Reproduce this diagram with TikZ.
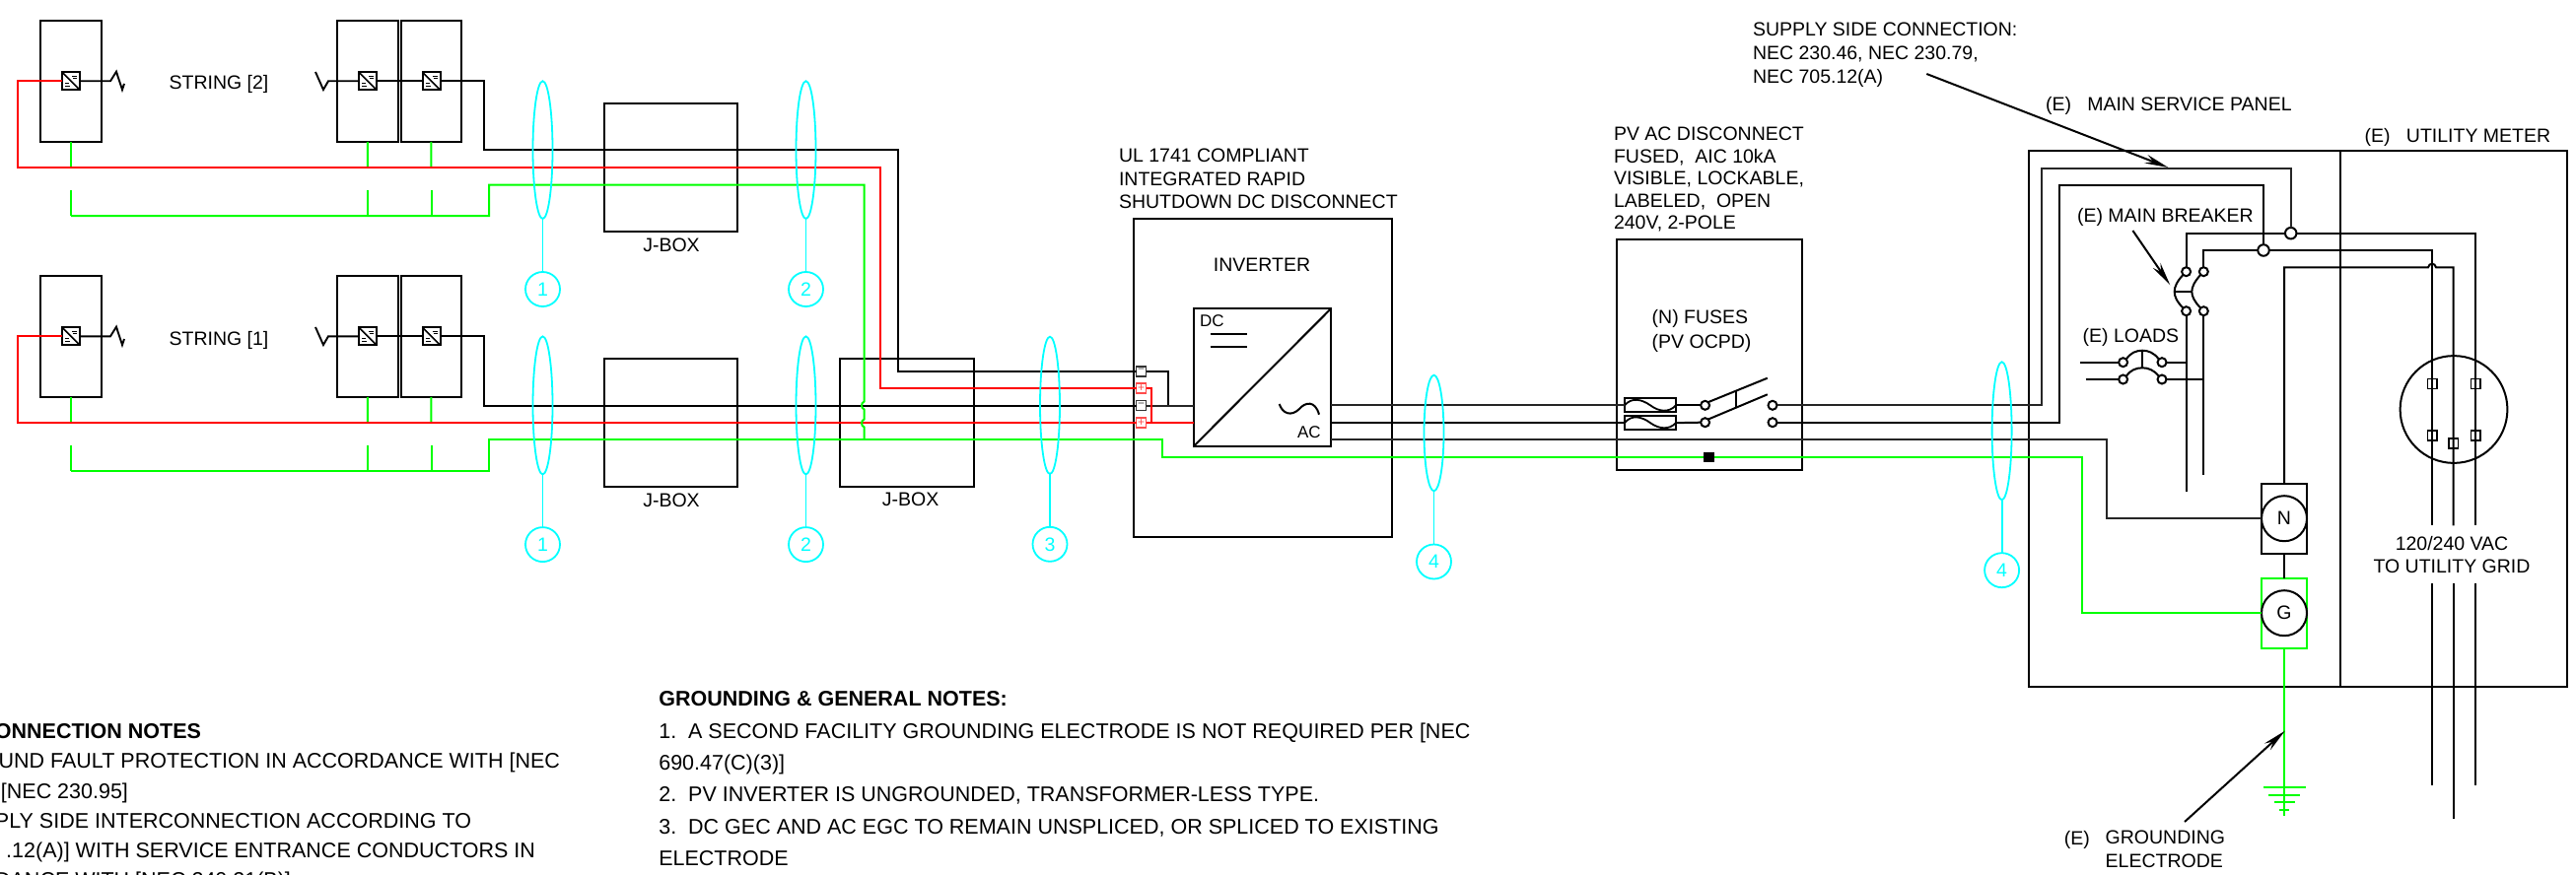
\documentclass[tikz,border=0pt]{standalone}
\usepackage{fontspec}
\setmainfont{Liberation Sans}
\usetikzlibrary{shapes.geometric,arrows.meta}
\definecolor{pvgreen}{RGB}{0,255,0}
\definecolor{pvred}{RGB}{255,0,0}
\definecolor{pvcyan}{RGB}{0,255,255}
\tikzset{
  blk/.style={draw=black,line width=2pt,inner sep=0pt,outer sep=0pt,rectangle},
  grbox/.style={draw=pvgreen,line width=2pt,inner sep=0pt,outer sep=0pt,rectangle},
  wire/.style={draw=black,line width=2pt,line join=miter},
  graywire/.style={draw=black!85,line width=2pt,line join=miter},
  rw/.style={draw=pvred,line width=2pt,line join=miter},
  gw/.style={draw=pvgreen,line width=2pt,line join=miter},
  cw/.style={draw=pvcyan,line width=1.8pt},
  cell/.style={draw=pvcyan,line width=1.8pt,ellipse,inner sep=0pt,outer sep=0pt,minimum width=20pt},
  ccir/.style={draw=pvcyan,line width=1.8pt,circle,inner sep=0pt,outer sep=0pt,minimum size=35pt,text=pvcyan,font=\fontsize{19.5}{22}\selectfont},
  sw/.style={draw=black,line width=2pt,fill=white,circle,inner sep=0pt,outer sep=0pt,minimum size=9pt},
  bigsw/.style={sw,minimum size=11.5pt},
  bus/.style={draw=black,line width=2pt,circle,inner sep=0pt,outer sep=0pt,minimum size=46pt,font=\fontsize{19.5}{22}\selectfont},
  tb/.style={draw=black!80,line width=1.6pt,rectangle,inner sep=0pt,outer sep=0pt,minimum size=10pt,font=\fontsize{12}{12}\selectfont,text=black!70},
  tr/.style={draw=pvred!70,line width=1.6pt,rectangle,inner sep=0pt,outer sep=0pt,minimum size=10pt,font=\fontsize{12}{12}\selectfont,text=pvred!70},
  ter/.style={draw=black,line width=1.6pt,rectangle,inner sep=0pt,outer sep=0pt,minimum width=9.4pt,minimum height=10pt},
  lbl/.style={inner sep=0pt,outer sep=0pt,font=\fontsize{19.5}{23.4}\selectfont,align=left},
  note/.style={inner sep=0pt,outer sep=0pt,font=\fontsize{21.5}{32.4}\selectfont,align=left},
  ptr/.style={draw=black,line width=2pt,-{Stealth[length=24pt,width=9pt]}},
}
\newcommand\pvbox[6][blk]{\node[#1,minimum width={(#5-#3)*1pt},minimum height={(#6-#4)*1pt}] (#2) at ({(#3+#5)/2},{(#4+#6)/2}) {};}
\newcommand\pvopt[3]{\node[blk,minimum width=18pt,minimum height=18pt] (#1) at (#2,#3) {};
  \draw[draw=black,line width=1.6pt] (#1.north west) -- (#1.south east);
  \draw[draw=black,line width=.9pt] ([shift={(1,-5)}]#1.center) -- ([shift={(6,-5)}]#1.center) ([shift={(2,-2.5)}]#1.center) -- ([shift={(6,-2.5)}]#1.center)
    ([shift={(-6,5)}]#1.center) -- ([shift={(-1,5)}]#1.center) ([shift={(-6,2.5)}]#1.center) -- ([shift={(-2,2.5)}]#1.center);}
\newcommand\pvcall[6]{\node[cell,minimum height={(#4-#3)*1pt}] (#1e) at (#2,{(#3+#4)/2}) {};
  \node[ccir] (#1c) at (#2,#5) {#6};
  \draw[cw] (#1e.south) -- (#1c.north);}
\newcommand\pvstring[3]{\begin{scope}[shift={(0,#2)}]
  \pvbox{p1#1}{41}{21}{103}{144}
  \pvbox{p2#1}{342}{21}{403.5}{144}
  \pvbox{p3#1}{406.5}{21}{468}{144}
  \pvopt{o1#1}{72}{82.3}
  \pvopt{o2#1}{373}{82.3}
  \pvopt{o3#1}{437.5}{82.3}
  \coordinate (za#1) at (126,85);
  \coordinate (zb#1) at (320,73);
  \draw[wire,line width=1.9pt] (o1#1.east) -- (112,82.3) -- (118,72.7) -- (124,91) -- (za#1);
  \draw[wire,line width=1.9pt] (o2#1.west) -- (333,82.3) -- (328,91) -- (zb#1);
  \draw[wire] (o2#1.east) -- (o3#1.west);
  \node[lbl,anchor=base] (st#1) at (222,91) {STRING [#3]};
  \foreach \pp/\xx in {p1/72,p2/373,p3/437.5} {
    \draw[gw] (\pp#1.south) -- (\xx,170);
    \coordinate (gs\pp#1) at (\xx,192.5);
    \draw[gw] (gs\pp#1) -- (\xx,219);
  }
\end{scope}}
\begin{document}
\begin{tikzpicture}[x=1pt,y=-1pt]
\useasboundingbox (0,0) rectangle (2613,888);

% PV strings
\pvstring{T}{0}{2}
\pvstring{B}{259}{1}

% J-boxes, inverter
\pvbox{jb1}{613}{105}{748}{234.6}
\pvbox{jb2}{613}{364}{748}{494}
\pvbox{jb3}{852}{364}{987.5}{494}
\node[lbl,anchor=base] (jl1) at (681,255) {J-BOX};
\node[lbl,anchor=base] (jl2) at (681,514.5) {J-BOX};
\node[lbl,anchor=base] (jl3) at (923.7,513) {J-BOX};

\pvbox{inv}{1150}{222}{1412}{545}
\pvbox{conv}{1211}{313.3}{1350}{452.7}
\draw[wire] (conv.south west) -- (conv.north east);
\node[lbl,anchor=base] (invl) at (1280,275) {INVERTER};
\node[lbl,anchor=base west,font=\fontsize{17}{20}\selectfont] (dcl) at (1217,331.5) {DC};
\node[lbl,anchor=base west,font=\fontsize{17}{20}\selectfont] (acl) at (1316,444.5) {AC};
\coordinate (dc1a) at (1227.7,339.3); \coordinate (dc1b) at (1265,339.3);
\coordinate (dc2a) at (1227.7,352.3); \coordinate (dc2b) at (1265,352.3);
\draw[wire] (dc1a) -- (dc1b) (dc2a) -- (dc2b);
\draw[wire] (1297.7,410) .. controls (1301,420) and (1310,423) .. (1318,415) .. controls (1324,408) and (1334,406) .. (1338,420.7);
\node[lbl,anchor=north west] (ull) at (1135,151.3) {UL 1741 COMPLIANT\\INTEGRATED RAPID\\SHUTDOWN DC DISCONNECT};

% DC terminals
\node[tb] (t1) at (1157.5,376.7) {−};
\node[tr] (t2) at (1157.5,394) {+};
\node[tb] (t3) at (1157.5,411.5) {−};
\node[tr] (t4) at (1157.5,429) {+};

% AC disconnect
\pvbox{disc}{1639.7}{242.7}{1828.4}{477}
\pvbox[draw=black,line width=2pt,rectangle,inner sep=0pt,outer sep=0pt]{f1}{1648}{404.3}{1700}{418.3}
\pvbox[draw=black,line width=2pt,rectangle,inner sep=0pt,outer sep=0pt]{f2}{1648}{422.3}{1700}{436}
\draw[wire,line width=1.8pt] (f1.west) .. controls (1655,403) and (1665,405) .. (f1.center) .. controls (1683,418) and (1693,419) .. (f1.east);
\draw[wire,line width=1.8pt] (f2.west) .. controls (1655,420.5) and (1665,422.5) .. (f2.center) .. controls (1683,435.5) and (1693,436.5) .. (f2.east);
\node[sw] (sl1) at (1729.6,411.3) {};
\node[sw] (sl2) at (1729.6,428.7) {};
\node[sw] (sr1) at (1798,411.3) {};
\node[sw] (sr2) at (1798,428.7) {};
\coordinate (bl1) at (1792.8,383.7);
\coordinate (bl2) at (1792.8,400.3);
\draw[wire] (sl1.north east) -- (bl1);
\draw[wire] (sl2.north east) -- (bl2);
\coordinate (lk1) at (1761,397); \coordinate (lk2) at (1761,414);
\draw[wire] (lk1) -- (lk2);
\node[lbl,anchor=north west,font=\fontsize{19.5}{22.5}\selectfont] (dl) at (1637,129.3) {PV AC DISCONNECT\\FUSED,\ \ AIC 10kA\\VISIBLE, LOCKABLE,\\LABELED,\ \ OPEN\\240V, 2-POLE};
\node[lbl,anchor=north west,font=\fontsize{19.5}{24.3}\selectfont] (fl) at (1675.7,314.7) {(N) FUSES\\(PV OCPD)};

% Panels
\pvbox{msp}{2058.2}{153.3}{2374}{697.3}
\pvbox{um}{2374}{153.3}{2604}{697.3}
\node[lbl,anchor=base west] (mspl) at (2075,113) {(E)\ \ \ MAIN SERVICE PANEL};
\node[lbl,anchor=base west] (uml) at (2398.7,145) {(E)\ \ \ UTILITY METER};
\node[lbl,anchor=base west] (mbl) at (2107,225.3) {(E) MAIN BREAKER};
\node[lbl,anchor=base west] (ldl) at (2112.6,347) {(E) LOADS};
\node[lbl,anchor=north west,font=\fontsize{19.5}{24.1}\selectfont] (spl) at (1778,23) {SUPPLY SIDE CONNECTION:\\NEC 230.46, NEC 230.79,\\NEC 705.12(A)};
\node[lbl,anchor=north,align=center] (vacl) at (2487,544) {120/240 VAC\\TO UTILITY GRID};
\node[lbl,anchor=base west] (gel1) at (2093.8,857) {(E)};
\node[lbl,anchor=north west] (gel2) at (2135.7,843) {GROUNDING\\ELECTRODE};

% Main breaker and loads
\node[bigsw] (nc1) at (2323.7,236.7) {};
\node[bigsw] (nc2) at (2296,254) {};
\node[sw] (b1t) at (2217.6,275.7) {};
\node[sw] (b2t) at (2235.3,275.7) {};
\node[sw] (b1b) at (2217.6,315.7) {};
\node[sw] (b2b) at (2235.3,315.7) {};
\draw[wire] (b1t.south west) .. controls (2208,286) and (2205.7,291) .. (2205.7,296) .. controls (2205.7,301) and (2208,306) .. (b1b.north west);
\draw[wire] (b2t.south west) .. controls (2226,286) and (2223.3,291) .. (2223.3,296) .. controls (2223.3,301) and (2226,306) .. (b2b.north west);
\draw[wire] (2205.7,296) -- (2223.3,296);
\node[sw] (ll1) at (2153.6,367.7) {};
\node[sw] (lr1) at (2193,367.7) {};
\node[sw] (ll2) at (2153.6,385) {};
\node[sw] (lr2) at (2193,385) {};
\draw[wire] (ll1.north east) .. controls (2161,358) and (2167,355.7) .. (2173.2,355.7) .. controls (2179,355.7) and (2185,358) .. (lr1.north west);
\draw[wire] (ll2.north east) .. controls (2161,375.5) and (2167,373.3) .. (2173.2,373.3) .. controls (2179,373.3) and (2185,375.5) .. (lr2.north west);
\draw[wire] (2173.2,355.7) -- (2173.2,373.3);
\coordinate (lw1) at (2109.9,367.7); \coordinate (lw2) at (2115.7,385);
\draw[wire] (lw1) -- (ll1.west);
\draw[wire] (lw2) -- (ll2.west);

% N and G bars
\pvbox{nb}{2294}{490.7}{2340}{561.7}
\pvbox[grbox]{gb}{2294}{586.7}{2340}{657.7}
\node[bus] (nc) at (nb.center) {N};
\node[bus] (gc) at (gb.center) {G};

% Meter
\node[draw=black,line width=2pt,circle,inner sep=0pt,outer sep=0pt,minimum size=108.8pt] (met) at (2489,415.5) {};
\node[ter] (m1) at (2467,389.3) {};
\node[ter] (m2) at (2511,389.3) {};
\node[ter] (m3) at (2467,441.7) {};
\node[ter] (m4) at (2511,441.7) {};
\node[ter] (m5) at (2488.7,450) {};

% DC conductors
\draw[rw] (o1T.west) -- (18,82.3) -- (18,170) -- (893,170) |- (t2.west);
\draw[rw] (o1B.west) -- (18,341.3) -- (18,429) -- (t4.west);
\draw[wire] (o3T.east) -- (491,82.3) -- (491,152.3) -- (910.5,152.3) |- (t1.west);
\draw[wire] (o3B.east) -- (491,341.3) -- (491,411.5) -- (t3.west);
\draw[wire] (t1.east) -| (1185,411.5);
\draw[graywire] (t3.east) -- (t3.east -| conv.west);
\draw[rw] (t2.east) -| (1168,429);
\draw[rw] (t4.east) -- (t4.east -| conv.west);

% Equipment ground
\draw[gw] (72,219) -- (496,219) -- (496,187.5) -- (876.6,187.5) -- (876.6,407.5) .. controls (873.2,408.5) and (873.2,414.5) .. (876.6,415.5) -- (876.6,425.5) .. controls (873.2,426.5) and (873.2,432.5) .. (876.6,433.5) -- (876.6,446);
\draw[gw] (72,478) -- (496,478) -- (496,446.3) -- (1179,446.3) -- (1179,464) -- (2112,464) |- (gb.west);
\node[fill=black,inner sep=0pt,outer sep=0pt,minimum size=10.7pt] (gbond) at (1733.8,464) {};

% AC conductors
\draw[graywire] (f1.west -| conv.east) -- (f1.west);
\draw[wire] (f2.west -| conv.east) -- (f2.west);
\draw[wire] (f1.east) -- (sl1.west);
\draw[wire] (f2.east) -- (sl2.west);
\draw[graywire] (sr1.east) -- (2071,411.3) -- (2071,171) -- (2323.7,171) -- (nc1.north);
\draw[wire] (sr2.east) -- (2088.7,428.7) -- (2088.7,188.3) -- (2296,188.3) -- (nc2.north);
\coordinate (ac3) at (1350,446.3);
\draw[graywire] (ac3) -- (2136.8,446.3) |- (nb.west);
\draw[wire] (nc1.west) -| (b1t.north);
\draw[wire] (nc2.west) -| (b2t.north);

% Service conductors
\coordinate (u1) at (2511,533.3); \coordinate (u2) at (2467,533.3); \coordinate (u3) at (2488.7,533.3);
\coordinate (d1) at (2511,591.7); \coordinate (d2) at (2467,591.7); \coordinate (d3) at (2488.7,591.7);
\coordinate (e1) at (2511,797.3); \coordinate (e2) at (2467,797.3); \coordinate (e3) at (2488.7,831);
\draw[wire] (nc1.east) -| (u1);
\draw[wire] (nc2.east) -| (u2);
\draw[wire] (nb.north) |- (2463,271.3) .. controls (2464,266.5) and (2470,266.5) .. (2471,271.3) -- (2488.7,271.3) -- (u3);
\draw[wire] (d1) -- (e1) (d2) -- (e2) (d3) -- (e3);
\coordinate (b1e) at (2217.6,499); \coordinate (b2e) at (2235.3,481.7);
\draw[wire] (b1b.south) -- (b1e);
\draw[wire] (b2b.south) -- (b2e);
\draw[wire] (lr1.east) -- (lr1.east -| b1e);
\draw[wire] (lr2.east) -- (lr2.east -| b2e);
\draw[wire] (nb.south) -- (gb.north);

% Grounding electrode
\coordinate (gnd) at (2317,828.3);
\draw[gw] (gb.south) -- (gnd);
\draw[gw] (2296,799) -- (2338.5,799) (2301.4,807) -- (2333,807) (2307,814.3) -- (2327.6,814.3) (2312,822.3) -- (2322,822.3);

% Leaders
\coordinate (a1s) at (1954.3,75); \coordinate (a1e) at (2199.4,170);
\coordinate (a2s) at (2163.4,234); \coordinate (a2e) at (2201.3,289.3);
\coordinate (a3s) at (2216,834); \coordinate (a3e) at (2317.8,741.7);
\draw[ptr] (a1s) -- (a1e);
\draw[ptr] (a2s) -- (a2e);
\draw[ptr] (a3s) -- (a3e);

% Callouts
\pvcall{c1}{550.5}{82.3}{222}{293.5}{1}
\pvcall{c2}{817.5}{82.3}{222}{293.5}{2}
\pvcall{c3}{550.5}{341.4}{481.4}{552.6}{1}
\pvcall{c4}{817.5}{341.4}{481.4}{552.6}{2}
\pvcall{c5}{1065}{341.7}{481}{552.3}{3}
\pvcall{c6}{1454.5}{380.7}{498.3}{570}{4}
\pvcall{c7}{2030.6}{367.3}{507.3}{578.7}{4}

% Notes
\node[note,anchor=north west] (gn) at (668.3,701.6) {\textbf{GROUNDING \& GENERAL NOTES:}\\1.\ \ A SECOND FACILITY GROUNDING ELECTRODE IS NOT REQUIRED PER [NEC\\690.47(C)(3)]\\2.\ \ PV INVERTER IS UNGROUNDED, TRANSFORMER-LESS TYPE.\\3.\ \ DC GEC AND AC EGC TO REMAIN UNSPLICED, OR SPLICED TO EXISTING\\ELECTRODE};
\node[note,anchor=base east] (in1) at (204,749.7) {\textbf{ONNECTION NOTES}};
\node[note,anchor=base east] (in2) at (568,779.7) {UND FAULT PROTECTION IN ACCORDANCE WITH [NEC};
\node[note,anchor=base east] (in3) at (130,810) {[NEC 230.95]};
\node[note,anchor=base east] (in4) at (478,840) {PLY SIDE INTERCONNECTION ACCORDING TO};
\node[note,anchor=base east] (in5) at (543,870) {.12(A)] WITH SERVICE ENTRANCE CONDUCTORS IN};
\node[note,anchor=base east] (in6) at (295,900) {DANCE WITH [NEC 240.21(B)]};
\end{tikzpicture}
\end{document}
